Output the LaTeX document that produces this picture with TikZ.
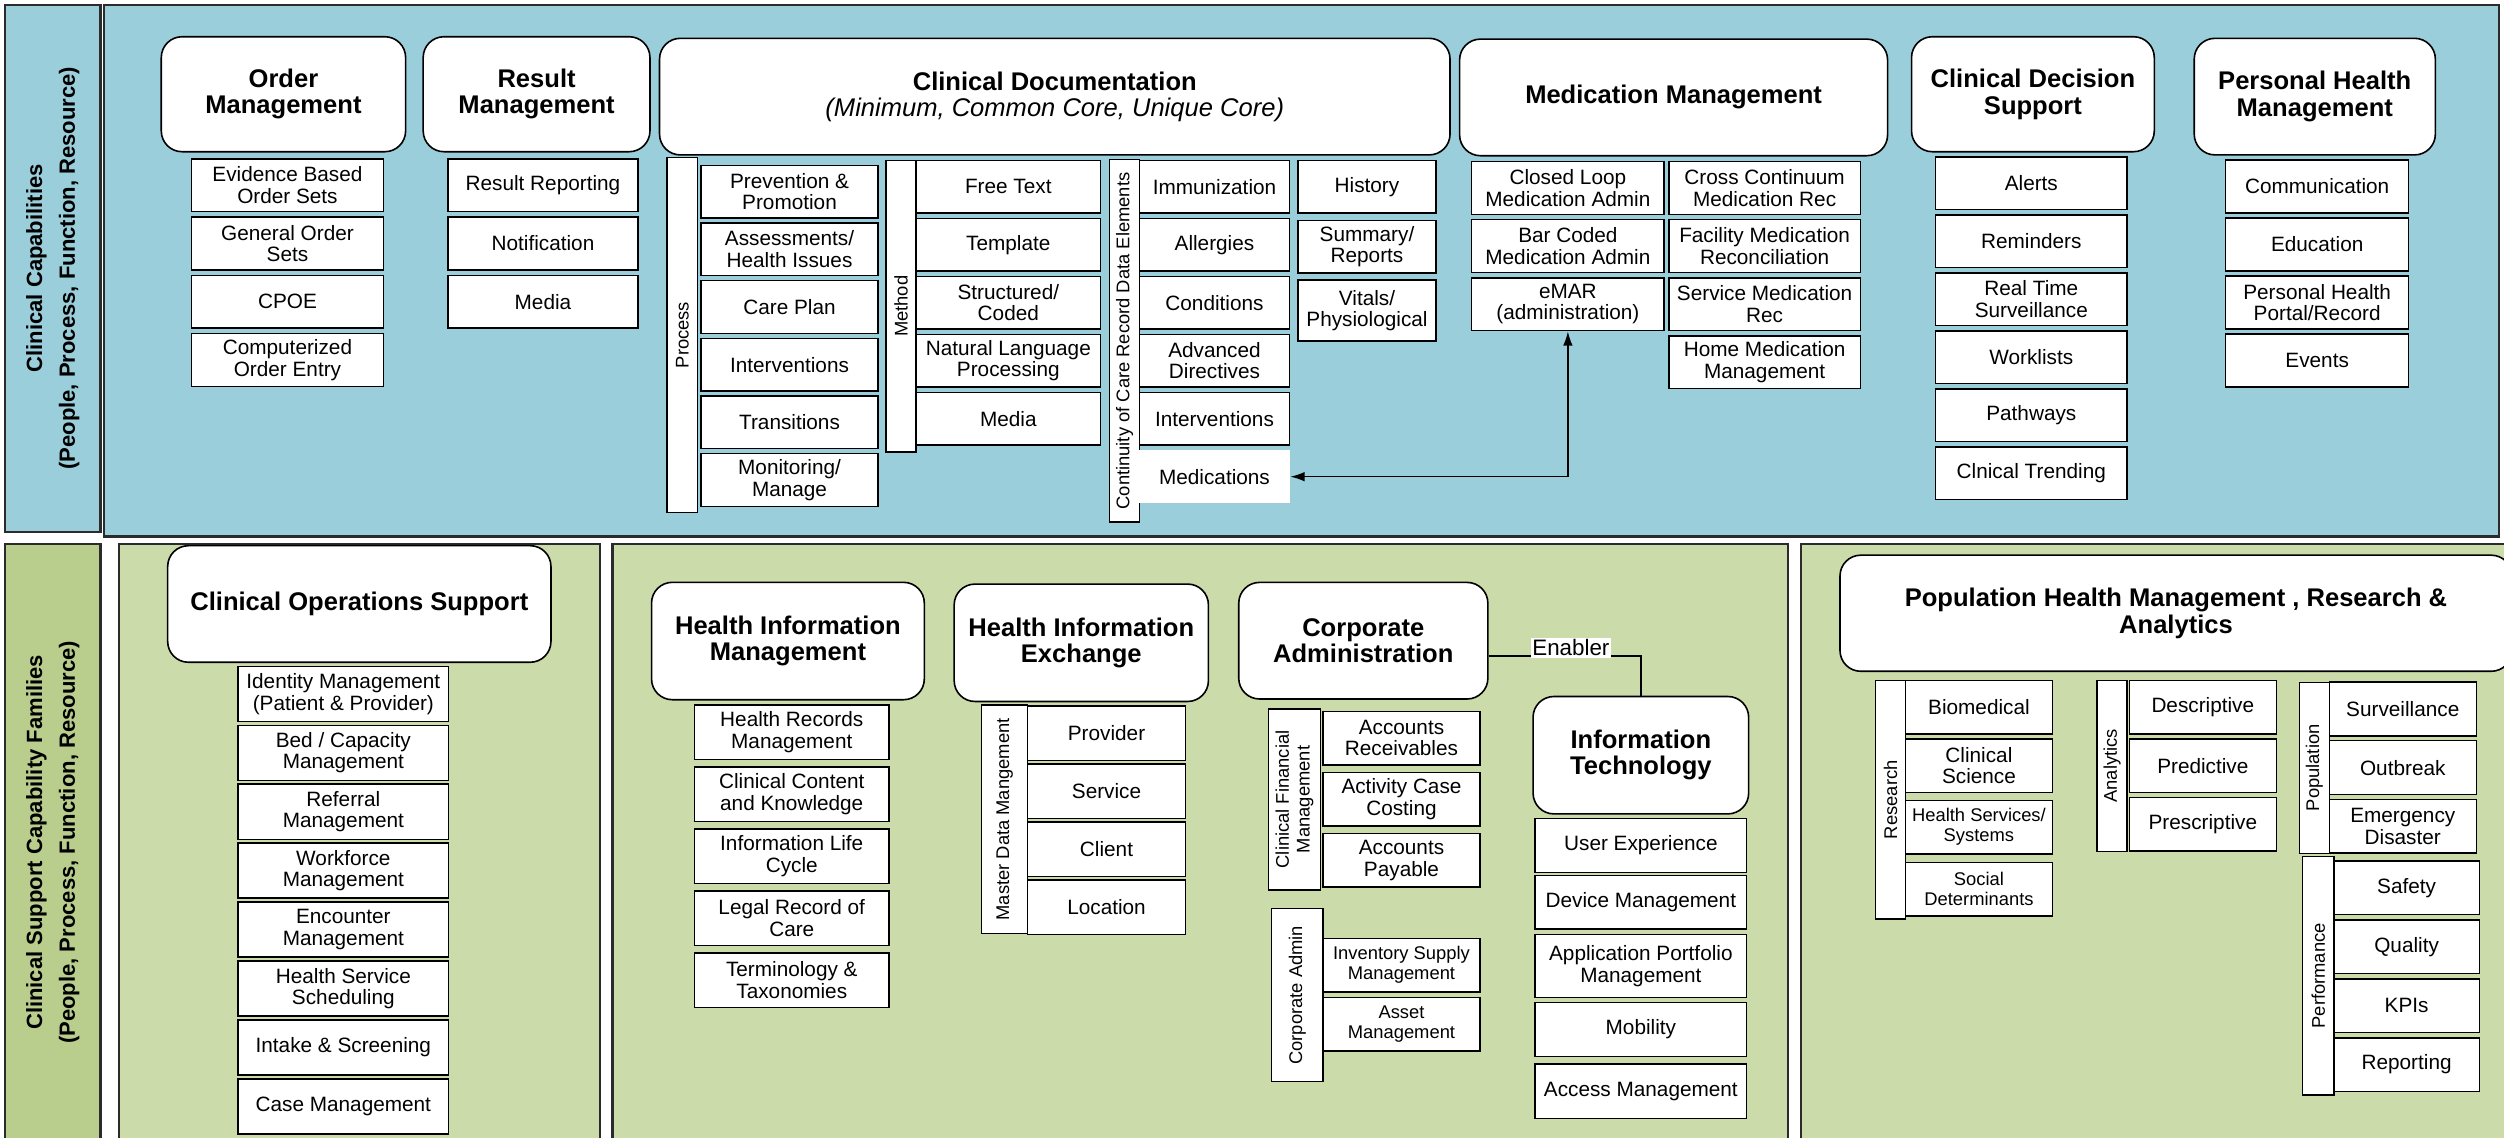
\documentclass[tikz,border=0pt]{standalone}
\usepackage{fontspec}
\setmainfont{Liberation Sans}
\usetikzlibrary{arrows.meta}

\definecolor{capblue}{HTML}{9ACEDB}
\definecolor{supgreen}{HTML}{CBDBA9}
\definecolor{bandgreen}{HTML}{B9CE8D}
\definecolor{rim}{HTML}{2B2B2B}

\tikzset{
  sz/.style 2 args={minimum width=#1, minimum height=#2},
  panel/.style={draw=rim, line width=1.4pt},
  head/.style={draw=black, fill=white, line width=1pt, rounded corners=13pt,
    align=center, inner sep=2pt, font=\bfseries\fontsize{16}{16.5}\selectfont},
  sub/.style={draw=black, fill=white, line width=0.9pt, align=center,
    inner sep=1pt, font=\fontsize{13}{13.5}\selectfont},
  small/.style={font=\fontsize{11.5}{12.5}\selectfont},
  bar/.style={draw=black, fill=white, line width=0.9pt, rotate=90,
    align=center, inner sep=1pt, font=\fontsize{11.5}{13}\selectfont},
  band/.style={rotate=90, align=center, font=\bfseries\fontsize{13.8}{20.5}\selectfont}
}

\begin{document}
\begin{tikzpicture}[x=1pt, y=-1pt, >={Latex[length=9pt,width=6pt]}]
  \useasboundingbox (0,0) rectangle (1568,712);
  \clip (0,0) rectangle (1568,712);

  % Clinical capabilities
  \draw[panel, fill=capblue] (3,3) rectangle (63,333);
  \draw[panel, fill=capblue] (65,3) rectangle (1565,336);
  \node[band] (capLbl) at (33,168)
    {Clinical Capabilities\\(People, Process, Function, Resource)};

  \node[head, sz={153}{72}] (orderHd) at (177.5,59) {Order\\Management};
  \node[head, sz={142}{72}] (resultHd) at (336,59) {Result\\Management};
  \node[head, sz={495}{73}] (docHd) at (660.5,60.5)
    {Clinical Documentation\\{\mdseries\itshape (Minimum, Common Core, Unique Core)}};
  \node[head, sz={268}{73}] (medHd) at (1048,61) {Medication Management};
  \node[head, sz={152}{72}] (cdsHd) at (1273,59) {Clinical Decision\\Support};
  \node[head, sz={151}{73}] (phmHd) at (1449.5,60.5) {Personal Health\\Management};

  \foreach \txt [count=\i from 0] in {{Evidence Based\\Order Sets}, {General Order\\Sets},
      CPOE, {Computerized\\Order Entry}}
    \node[sub, sz={120}{33}] (order\i) at (180,{116+36.5*\i}) {\txt};
  \foreach \txt [count=\i from 0] in {Result Reporting, Notification, Media}
    \node[sub, sz={119}{33}] (result\i) at (340,{116+36.5*\i}) {\txt};

  % Clinical documentation columns
  \node[bar, sz={222.5}{19}] (procBar) at (427.3,209.8) {Process};
  \foreach \txt [count=\i from 0] in {{Prevention \&\\Promotion}, {Assessments/\\Health Issues},
      Care Plan, Interventions, Transitions, {Monitoring/\\Manage}}
    \node[sub, sz={110.8}{33}] (proc\i) at (494.4,{120+36.1*\i}) {\txt};
  \node[bar, sz={182.4}{19}] (methBar) at (564.2,191.8) {Method};
  \foreach \txt [count=\i from 0] in {Free Text, Template, {Structured/\\Coded},
      {Natural Language\\Processing}, Media}
    \node[sub, sz={115.3}{33}] (meth\i) at (631.4,{117+36.3*\i}) {\txt};
  \node[bar, sz={227}{18.7}] (ccrBar) at (704.2,213.5) {Continuity of Care Record Data Elements};
  \foreach \txt [count=\i from 0] in {Immunization, Allergies, Conditions,
      {Advanced\\Directives}, Interventions}
    \node[sub, sz={94}{33}] (ccr\i) at (760.5,{117+36.3*\i}) {\txt};
  \node[sub, draw=none, sz={94}{33}] (ccr5) at (760.5,298.5) {Medications};
  \foreach \txt/\yc/\h in {History/117/33, {Summary/\\Reports}/154.4/33,
      {Vitals/\\Physiological}/194.4/38}
    \node[sub, sz={86.5}{\h}] at (856,\yc) {\txt};

  % Medication management
  \foreach \txt [count=\i from 0] in {{Closed Loop\\Medication Admin},
      {Bar Coded\\Medication Admin}, {eMAR\\(administration)}}
    \node[sub, sz={120.5}{33}] (medA\i) at (981.8,{117.7+36.4*\i}) {\txt};
  \foreach \txt [count=\i from 0] in {{Cross Continuum\\Medication Rec},
      {Facility Medication\\Reconciliation}, {Service Medication\\Rec},
      {Home Medication\\Management}}
    \node[sub, sz={120}{33}] (medB\i) at (1105,{117.7+36.4*\i}) {\txt};
  \draw[<->, line width=1pt] (ccr5) -| (medA2);

  \foreach \txt [count=\i from 0] in {Alerts, Reminders, {Real Time\\Surveillance},
      Worklists, Pathways, Clnical Trending}
    \node[sub, sz={120}{33}] (cds\i) at (1272,{114.8+36.3*\i}) {\txt};
  \foreach \txt [count=\i from 0] in {Communication, Education,
      {Personal Health\\Portal/Record}, Events}
    \node[sub, sz={114.5}{33}] (phm\i) at (1451,{116.8+36.3*\i}) {\txt};

  % Clinical support families
  \draw[panel, fill=bandgreen] (3,340.5) rectangle (63,720);
  \node[band] (supLbl) at (33,527.5)
    {Clinical Support Capability Families\\(People, Process, Function, Resource)};
  \draw[panel, fill=supgreen] (74.6,340.5) rectangle (375.5,720);
  \draw[panel, fill=supgreen] (383.6,340.5) rectangle (1119.5,720);
  \draw[panel, fill=supgreen] (1127.6,340.5) rectangle (1580,720);

  \node[head, sz={240}{73}] (cosHd) at (225,378.2) {Clinical Operations Support};
  \foreach \txt [count=\i from 0] in {{Identity Management\\(Patient \& Provider)},
      {Bed / Capacity\\Management}, {Referral\\Management}, {Workforce\\Management},
      {Encounter\\Management}, {Health Service\\Scheduling}, Intake \& Screening,
      Case Management}
    \node[sub, sz={132}{34.5}] (cos\i) at (215,{434.5+36.9*\i}) {\txt};

  \node[head, sz={170.8}{73.5}] (himHd) at (493.4,401.4) {Health Information\\Management};
  \foreach \txt [count=\i from 0] in {{Health Records\\Management},
      {Clinical Content\\and Knowledge}, {Information Life\\Cycle},
      {Legal Record of\\Care}, {Terminology \&\\Taxonomies}}
    \node[sub, sz={121.5}{34}] (him\i) at (495.8,{458.6+38.8*\i}) {\txt};

  \node[head, sz={159.2}{73.5}] (hieHd) at (677.1,402.5) {Health Information\\Exchange};
  \node[bar, sz={143.2}{28.8}] (mdmBar) at (629.1,513.1) {Master Data Mangement};
  \foreach \txt [count=\i from 0] in {Provider, Service, Client, Location}
    \node[sub, sz={98.8}{34}] (mdm\i) at (692.9,{459.2+36.3*\i}) {\txt};

  \node[head, sz={156}{73}] (caHd) at (853.7,401.2) {Corporate\\Administration};
  \node[bar, sz={113.4}{32.4}] (cfmBar) at (810.6,500.6) {Clinical Financial\\Management};
  \foreach \txt [count=\i from 0] in {{Accounts\\Receivables}, {Activity Case\\Costing},
      {Accounts\\Payable}}
    \node[sub, sz={98.2}{33.5}] (cfm\i) at (877.6,{462.2+38.3*\i}) {\txt};
  \node[bar, sz={108.3}{32.3}] (cadBar) at (812.4,623.2) {Corporate Admin};
  \foreach \txt [count=\i from 0] in {{Inventory Supply\\Management}, {Asset\\Management}}
    \node[sub, small, sz={98.2}{33.5}] (cad\i) at (877.6,{604.4+36.9*\i}) {\txt};

  \node[head, sz={135}{73.5}] (itHd) at (1027.5,472.9) {Information\\Technology};
  \foreach \txt/\yc/\h [count=\i from 0] in {User Experience/529.5/34,
      Device Management/564.9/33.5, {Application Portfolio\\Management}/604.9/39.3,
      Mobility/644.6/34, Access Management/683.4/34}
    \node[sub, sz={132.4}{\h}] (it\i) at (1027.5,\yc) {\txt};
  \draw[line width=1pt] ([yshift=-9.5pt]caHd.east) -|
    node[pos=0.27, fill=white, inner sep=1pt, yshift=5pt,
      font=\fontsize{14}{15}\selectfont] {Enabler} (itHd.north);

  % Population health, research and analytics
  \node[head, sz={420.8}{72.7}] (popHd) at (1362.6,384)
    {Population Health Management , Research \&\\Analytics};
  \node[bar, sz={149.5}{18.8}] (resBar) at (1183.8,500.8) {Research};
  \node[sub, sz={92}{33.7}] (res0) at (1239.2,442.8) {Biomedical};
  \node[sub, sz={92}{33.7}] (res1) at (1239.2,479.5) {Clinical\\Science};
  \node[sub, small, sz={92}{33.7}] (res2) at (1239.2,518) {Health Services/\\Systems};
  \node[sub, small, sz={92}{33.7}] (res3) at (1239.2,556.8) {Social\\Determinants};
  \node[bar, sz={107.1}{18.8}] (anaBar) at (1322.6,479.6) {Analytics};
  \foreach \txt [count=\i from 0] in {Descriptive, Predictive, Prescriptive}
    \node[sub, sz={92}{33.6}] (ana\i) at (1379.4,{442.8+36.7*\i}) {\txt};
  \node[bar, sz={107.1}{18.8}] (popBar) at (1449.2,480.8) {Population};
  \foreach \txt [count=\i from 0] in {Surveillance, Outbreak, {Emergency\\Disaster}}
    \node[sub, sz={92}{33.7}] (pop\i) at (1504.6,{444+36.7*\i}) {\txt};
  \node[bar, sz={149.5}{19.6}] (perfBar) at (1451.7,611) {Performance};
  \foreach \txt [count=\i from 0] in {Safety, Quality, KPIs, Reporting}
    \node[sub, sz={91}{33.5}] (perf\i) at (1507,{555.9+36.9*\i}) {\txt};
\end{tikzpicture}
\end{document}
